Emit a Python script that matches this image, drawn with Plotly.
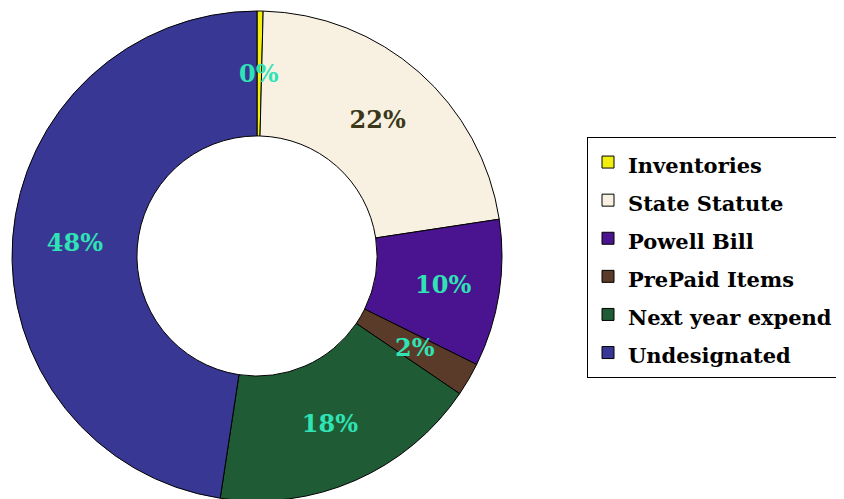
import math

import plotly.graph_objects as go

labels = ["Inventories", "State Statute", "Powell Bill", "PrePaid Items", "Next year expend", "Undesignated"]
values = [0.4, 22.2, 9.7, 2.2, 17.9, 47.6]
colors = ["#F2EE10", "#F8F1E2", "#4A1390", "#5A3A28", "#1F5C35", "#383894"]
text_colors = ["#2FE3B5", "#3A3818", "#2FE3B5", "#2FE3B5", "#2FE3B5", "#2FE3B5"]

W, H = 844, 499
HOLE = 0.49
# the page body adds an 8px offset, so the figure is laid out 8px up/left
DOM_X = [4 / W, 494 / W]
DOM_Y = [1 - 493 / H, 1 - 3 / H]
LABEL_FONT = "DejaVu Serif"

total = sum(values)
pct_text = [f"{round(v / total * 100)}%" for v in values]
small = [v / total < 0.05 for v in values]

# thin slices: plotly pushes their text to the rim, so put it at mid-ring instead
cx = (DOM_X[0] + DOM_X[1]) / 2
cy = (DOM_Y[0] + DOM_Y[1]) / 2
radius = min((DOM_X[1] - DOM_X[0]) * W, (DOM_Y[1] - DOM_Y[0]) * H) / 2
r_mid = radius * (1 + HOLE) / 2

annotations = []
cum = 0.0
for v, txt, col, is_small in zip(values, pct_text, text_colors, small):
    theta = 2 * math.pi * (cum + v / 2) / total
    cum += v
    if not is_small:
        continue
    annotations.append(
        dict(
            x=cx + r_mid * math.sin(theta) / W,
            y=cy + r_mid * math.cos(theta) / H,
            xref="paper",
            yref="paper",
            xanchor="center",
            yanchor="middle",
            text=txt,
            showarrow=False,
            font={"family": LABEL_FONT, "size": 24, "color": col, "weight": "bold"},
        )
    )

legend_labels = [f"<span style='font-size:21px'>{name}</span>" for name in labels]

fig = go.Figure()
fig.add_trace(
    go.Pie(
        labels=legend_labels,
        values=values,
        hole=HOLE,
        sort=False,
        direction="clockwise",
        rotation=0,
        marker={"colors": colors, "line": {"color": "#000000", "width": 1}},
        text=["" if s else t for s, t in zip(small, pct_text)],
        texttemplate="%{text}",
        textposition="inside",
        insidetextorientation="horizontal",
        textfont={"family": LABEL_FONT, "size": 24, "color": text_colors, "weight": "bold"},
        hoverinfo="label+percent",
        domain={"x": DOM_X, "y": DOM_Y},
    )
)

fig.update_layout(
    width=W,
    height=H,
    margin={"l": 0, "r": 0, "t": 0, "b": 0},
    paper_bgcolor="white",
    plot_bgcolor="white",
    uniformtext={"minsize": 24, "mode": "show"},
    annotations=annotations,
    legend={
        "x": 579 / W,
        "y": 1 - 129 / H,
        "xanchor": "left",
        "yanchor": "top",
        "bgcolor": "white",
        "bordercolor": "#000000",
        "borderwidth": 1,
        "font": {"family": LABEL_FONT, "size": 27, "color": "#000000", "weight": "bold"},
        "itemclick": False,
    },
)

fig.write_html("out.html")
